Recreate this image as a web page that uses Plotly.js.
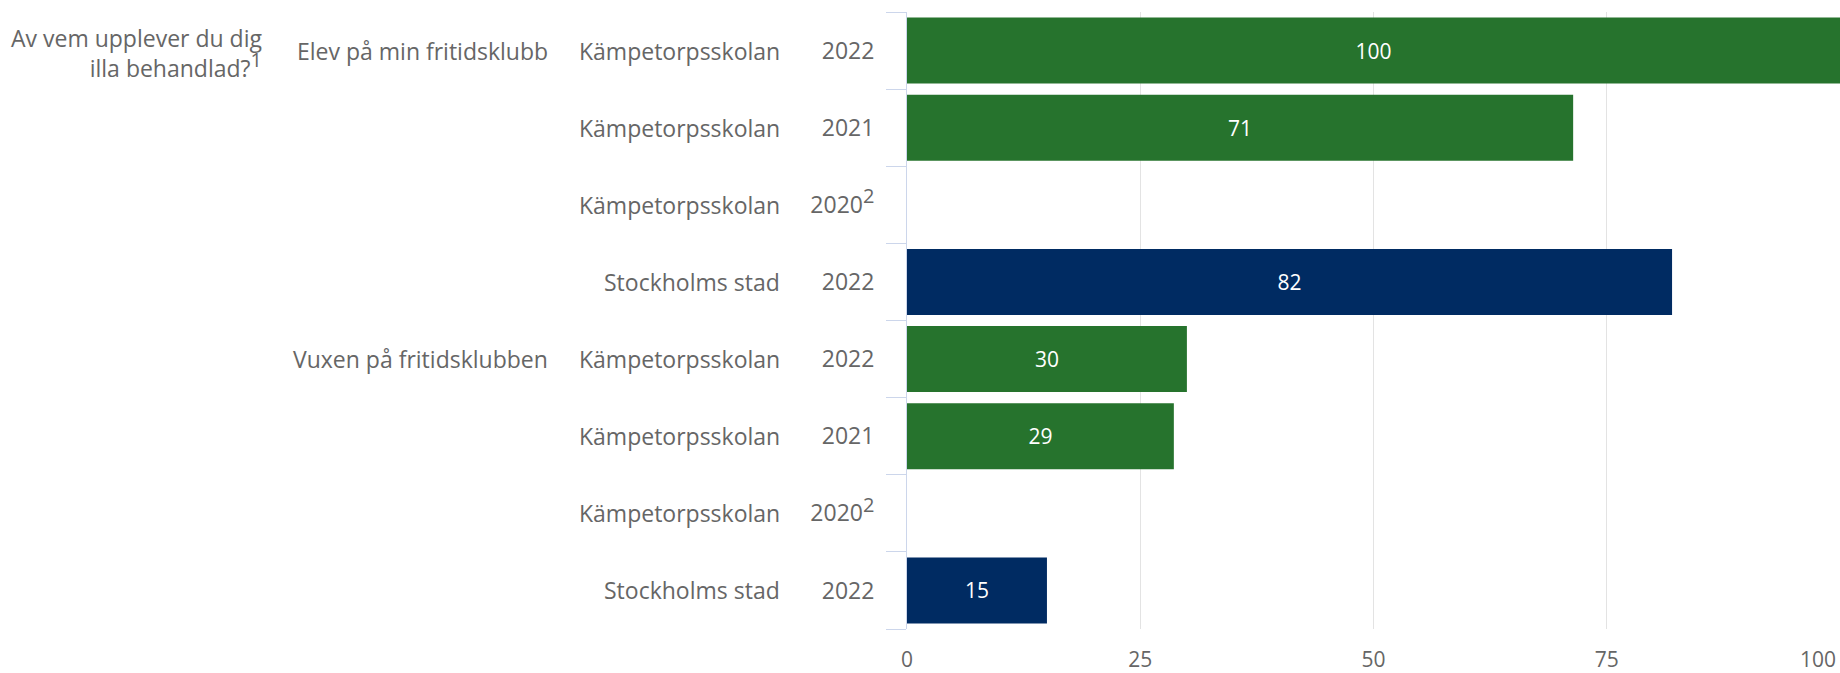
<!DOCTYPE html>
<html>
<head>
<meta charset="utf-8">
<script src="https://cdn.plot.ly/plotly-3.0.1.min.js"></script>
<style>html,body{margin:0;padding:0;background:#fff;}#chart{width:1840px;height:673px;}</style>
</head>
<body>
<div id="chart"></div>
<script>
// ---- data ----
const question = "Av vem upplever du dig<br>illa behandlad?<sup><span style=\"font-size:20px\">1</span></sup>";
const groups  = ["Elev på min fritidsklubb","Elev på min fritidsklubb","Elev på min fritidsklubb","Elev på min fritidsklubb",
                 "Vuxen på fritidsklubben","Vuxen på fritidsklubben","Vuxen på fritidsklubben","Vuxen på fritidsklubben"];
const units   = ["Kämpetorpsskolan","Kämpetorpsskolan","Kämpetorpsskolan","Stockholms stad",
                 "Kämpetorpsskolan","Kämpetorpsskolan","Kämpetorpsskolan","Stockholms stad"];
const sup2 = "<sup><span style=\"font-size:20px\">2</span></sup>";
const years   = ["2022","2021","2020" + sup2,"2022","2022","2021","2020" + sup2,"2022"];
const values  = [100, 71.4, null, 82, 30, 28.6, null, 15];
const xTicks  = [0, 25, 50, 75];
const xTickLast = 100;

// ---- layout constants ----
const W = 1840, H = 673, L = 907, R = 0, T = 12, B = 44;
const plotW = W - L - R;
const px = p => (p - L) / plotW;

const keys = groups.map((g, i) => g + "|" + units[i] + "|" + i);
const colorFor = u => u === "Stockholms stad" ? "#002B62" : "#26732D";
const grey = "#666666";
const fam = "'Open Sans', sans-serif";
const fs = 23;

const trace = {
  type: "bar",
  orientation: "h",
  y: keys,
  x: values,
  marker: { color: units.map(colorFor), line: { width: 0 } },
  text: values.map(v => v === null ? null : String(Math.round(v))),
  textposition: "inside",
  insidetextanchor: "middle",
  textangle: 0,
  textfont: { color: "#ffffff", size: 21, family: fam },
  hoverinfo: "skip"
};

const annotations = [];
// question
annotations.push({
  xref: "paper", yref: "y", x: px(264), y: keys[0], yshift: -2,
  xanchor: "right", yanchor: "middle", align: "right",
  text: question, showarrow: false,
  font: { size: fs, color: grey, family: fam }
});
// groups (first row of each)
groups.forEach((g, i) => {
  if (i === 0 || groups[i - 1] !== g) {
    annotations.push({
      xref: "paper", yref: "y", x: px(550), y: keys[i],
      xanchor: "right", yanchor: "middle", text: g, showarrow: false,
      font: { size: fs, color: grey, family: fam }
    });
  }
});
// units
units.forEach((u, i) => {
  annotations.push({
    xref: "paper", yref: "y", x: px(782), y: keys[i],
    xanchor: "right", yanchor: "middle", text: u, showarrow: false,
    font: { size: fs, color: grey, family: fam }
  });
});
// last x tick label, kept inside the page
annotations.push({
  xref: "x", yref: "paper", x: xTickLast, y: 0, yshift: -30, xshift: -2,
  xanchor: "right", yanchor: "middle", text: String(xTickLast), showarrow: false,
  font: { size: 21, color: grey, family: fam }
});

const layout = {
  width: W, height: H,
  margin: { l: L, r: R, t: T, b: B, pad: 0 },
  paper_bgcolor: "#ffffff", plot_bgcolor: "#ffffff",
  showlegend: false,
  bargap: 0.145,
  font: { family: fam, color: grey, size: fs },
  xaxis: {
    range: [0, 100],
    tickvals: xTicks,
    ticktext: xTicks.map(String),
    showgrid: true, gridcolor: "#e3e3e3", gridwidth: 1,
    zeroline: false, showline: false, ticks: "",
    ticklabelstandoff: 16,
    tickfont: { size: 21, color: grey, family: fam },
    fixedrange: true
  },
  yaxis: {
    type: "category",
    autorange: "reversed",
    tickvals: keys,
    ticktext: years,
    tickson: "boundaries",
    ticks: "outside", ticklen: 20, tickwidth: 1, tickcolor: "#ccd6eb",
    showline: true, linecolor: "#ccd6eb", linewidth: 1,
    showgrid: false, zeroline: false,
    ticklabelstandoff: 27,
    tickfont: { size: fs, color: grey, family: fam },
    fixedrange: true
  },
  annotations: annotations
};

Plotly.newPlot("chart", [trace], layout, { displayModeBar: false, staticPlot: true });
</script>
</body>
</html>
